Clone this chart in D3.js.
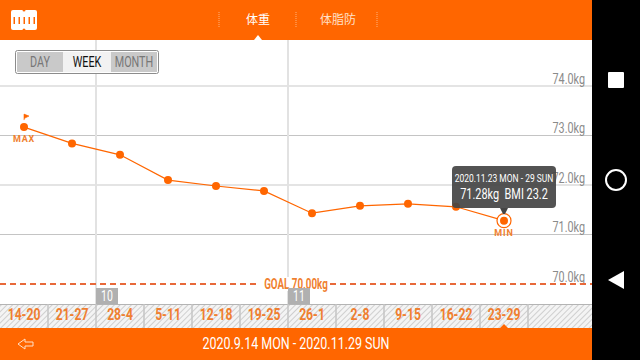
<!DOCTYPE html>
<html>
<head>
<meta charset="utf-8">
<script src="https://cdn.jsdelivr.net/npm/d3@7/dist/d3.min.js"></script>
<style>
  html, body { margin: 0; padding: 0; background: #fff; overflow: hidden; }
  text { font-family: "Roboto", sans-serif; }
  .cjk { font-family: "Noto Sans CJK JP", sans-serif; }
</style>
</head>
<body>
<div id="chart"></div>
<script>
// weekly data
var weeks = ["14-20", "21-27", "28-4", "5-11", "12-18", "19-25", "26-1", "2-8", "9-15", "16-22", "23-29"];
var weights = [73.17, 72.84, 72.61, 72.10, 71.98, 71.88, 71.43, 71.58, 71.62, 71.56, 71.28];
var yTicks = [70, 71, 72, 73, 74];
var thickTicks = [72, 74];
var monthTags = [{week: "28-4", label: "10"}, {week: "26-1", label: "11"}];
var tabs = ["体重", "体脂防"];
var ranges = ["DAY", "WEEK", "MONTH"];
var goal = 70;
var dateRange = "2020.9.14 MON - 2020.11.29 SUN";
var tipDate = "2020.11.23 MON - 29 SUN";
var tipValue = "71.28kg  BMI 23.2";

var orange = "#ff6600", labelOrange = "#f07f30";

// the app uses a condensed DIN style face, squeeze Roboto to get near it
function squeeze(sel, ratio) {
  sel.each(function() {
    this.setAttribute("textLength", this.getComputedTextLength() * ratio);
    this.setAttribute("lengthAdjust", "spacingAndGlyphs");
  });
}

var svg = d3.select("#chart").append("svg")
    .attr("width", 640)
    .attr("height", 360)
    .style("display", "block");

// hatch for the week strip
var hatch = svg.append("defs").append("pattern")
    .attr("id", "hatch")
    .attr("width", 4).attr("height", 4)
    .attr("patternUnits", "userSpaceOnUse")
    .attr("patternTransform", "rotate(45)");
hatch.append("rect").attr("width", 4).attr("height", 4).attr("fill", "#f4f4f4");
hatch.append("line").attr("x1", 0).attr("x2", 0).attr("y1", 0).attr("y2", 4)
    .attr("stroke", "#cfcfcf").attr("stroke-width", 2);

var x = d3.scaleBand().domain(weeks).range([0, 528]);
var y = d3.scaleLinear().domain([70, 74]).range([284, 86]);
var px = function(w) { return x(w) + x.bandwidth() / 2; };

svg.append("rect").attr("width", 592).attr("height", 360).attr("fill", "#fff");

// horizontal grid
svg.selectAll(".hgrid").data(yTicks.filter(function(d) { return d != goal; }))
  .enter().append("line")
    .attr("x1", 0).attr("x2", 592)
    .attr("y1", function(d) { return y(d); })
    .attr("y2", function(d) { return y(d); })
    .attr("stroke", function(d) { return thickTicks.indexOf(d) >= 0 ? "#e4e4e4" : "#c4c4c4"; })
    .attr("stroke-width", function(d) { return thickTicks.indexOf(d) >= 0 ? 2 : 1; });

// month boundaries
svg.selectAll(".vgrid").data(monthTags)
  .enter().append("line")
    .attr("x1", function(d) { return x(d.week); })
    .attr("x2", function(d) { return x(d.week); })
    .attr("y1", 40).attr("y2", 304)
    .attr("stroke", "#e2e2e2").attr("stroke-width", 2);

// y axis, labels sit on top of their lines
var yAxis = svg.append("g")
    .attr("transform", "translate(585,0)")
    .call(d3.axisLeft(y).tickValues(yTicks).tickSize(0).tickPadding(0)
      .tickFormat(function(d) { return d3.format(".1f")(d) + "kg"; }));
yAxis.select(".domain").remove();
yAxis.selectAll("text")
    .attr("dy", "-0.2em")
    .style("font-size", "15px")
    .attr("fill", "#8a8a8a")
    .call(squeeze, 0.72);

// goal line
svg.append("line")
    .attr("x1", 0).attr("x2", 592)
    .attr("y1", y(goal)).attr("y2", y(goal))
    .attr("stroke", "#e8693a").attr("stroke-width", 2)
    .attr("stroke-dasharray", "6,4");
svg.append("rect")
    .attr("x", 260).attr("y", y(goal) - 7).attr("width", 70).attr("height", 14)
    .attr("fill", "#fff");
svg.append("text")
    .attr("x", 296).attr("y", y(goal) + 5)
    .attr("text-anchor", "middle")
    .attr("fill", labelOrange)
    .style("font-size", "14px")
    .style("font-weight", "700")
    .text("GOAL " + d3.format(".2f")(goal) + "kg")
    .call(squeeze, 0.7);

// week strip
svg.append("rect").attr("x", 0).attr("y", 304).attr("width", 592).attr("height", 24)
    .attr("fill", "url(#hatch)");
svg.append("line").attr("x1", 0).attr("x2", 592).attr("y1", 304.5).attr("y2", 304.5)
    .attr("stroke", "#b4b4b4");
svg.selectAll(".sep").data(weeks)
  .enter().append("line")
    .attr("x1", function(d) { return x(d) + x.bandwidth(); })
    .attr("x2", function(d) { return x(d) + x.bandwidth(); })
    .attr("y1", 304).attr("y2", 328)
    .attr("stroke", "#c4c4c4").attr("stroke-width", 1.5);

var xAxis = svg.append("g")
    .attr("transform", "translate(0,304)")
    .call(d3.axisBottom(x).tickSize(0).tickPadding(5));
xAxis.select(".domain").remove();
xAxis.selectAll("text")
    .style("font-size", "16px")
    .style("font-weight", "700")
    .attr("fill", labelOrange)
    .call(squeeze, 0.76);

// month tags
var tags = svg.selectAll(".tag").data(monthTags).enter().append("g");
tags.append("rect")
    .attr("x", function(d) { return x(d.week); })
    .attr("y", 288).attr("width", 22).attr("height", 16)
    .attr("fill", "#b0b0b0");
tags.append("text")
    .attr("x", function(d) { return x(d.week) + 11; })
    .attr("y", 301)
    .attr("text-anchor", "middle")
    .attr("fill", "#fff")
    .style("font-size", "14px")
    .text(function(d) { return d.label; })
    .call(squeeze, 0.75);

// the line and its points
var line = d3.line()
    .x(function(d, i) { return px(weeks[i]); })
    .y(function(d) { return y(d); });
svg.append("path")
    .attr("d", line(weights))
    .attr("fill", "none")
    .attr("stroke", orange)
    .attr("stroke-width", 1.2);
svg.selectAll(".dot").data(weights)
  .enter().append("circle")
    .attr("cx", function(d, i) { return px(weeks[i]); })
    .attr("cy", function(d) { return y(d); })
    .attr("r", 4)
    .attr("fill", orange);

// max / min markers
var iMax = weights.indexOf(d3.max(weights));
var iMin = weights.indexOf(d3.min(weights));
var maxX = px(weeks[iMax]), maxY = y(weights[iMax]);
var minX = px(weeks[iMin]), minY = y(weights[iMin]);
svg.append("text")
    .attr("x", maxX).attr("y", maxY + 15)
    .attr("text-anchor", "middle")
    .attr("fill", labelOrange)
    .style("font-size", "9px").style("font-weight", "700").style("letter-spacing", "0.8px")
    .text("MAX");
svg.append("path")
    .attr("d", d3.line()([[maxX, maxY - 7], [maxX, maxY - 13], [maxX + 5, maxY - 11], [maxX + 1, maxY - 9]]))
    .attr("fill", orange).attr("stroke", orange).attr("stroke-width", 0.6);
svg.append("circle")
    .attr("cx", minX).attr("cy", minY).attr("r", 7)
    .attr("fill", "#fff").attr("stroke", orange).attr("stroke-width", 1.2);
svg.append("circle")
    .attr("cx", minX).attr("cy", minY).attr("r", 4).attr("fill", orange);
svg.append("text")
    .attr("x", minX).attr("y", minY + 15)
    .attr("text-anchor", "middle")
    .attr("fill", labelOrange)
    .style("font-size", "9px").style("font-weight", "700").style("letter-spacing", "0.8px")
    .text("MIN");

// tooltip over the last week
var tip = svg.append("g").attr("transform", "translate(" + minX + ",0)");
tip.append("rect")
    .attr("x", -52).attr("y", 166).attr("width", 104).attr("height", 42).attr("rx", 4)
    .attr("fill", "#444").attr("fill-opacity", 0.92);
tip.append("path")
    .attr("d", "M-4,208L4,208L1,214L-1,214Z")
    .attr("fill", "#444");
tip.append("text")
    .attr("y", 182).attr("text-anchor", "middle").attr("fill", "#fff")
    .style("font-size", "11px")
    .text(tipDate)
    .call(squeeze, 0.77);
tip.append("text")
    .attr("y", 199).attr("text-anchor", "middle").attr("fill", "#fff")
    .style("white-space", "pre")
    .style("font-size", "14px")
    .text(tipValue)
    .call(squeeze, 0.78);

// header bar
svg.append("rect").attr("width", 592).attr("height", 40).attr("fill", orange);
svg.append("rect").attr("x", 11).attr("y", 10).attr("width", 26).attr("height", 20).attr("rx", 2).attr("fill", "#fff");
svg.selectAll(".notch").data([10, 30])
  .enter().append("circle")
    .attr("cx", 24).attr("cy", function(d) { return d; }).attr("r", 1.5)
    .attr("fill", orange);
svg.selectAll(".bar").data(d3.range(5))
  .enter().append("rect")
    .attr("x", function(d) { return 13.5 + d * 5; })
    .attr("y", 17).attr("width", 1.5).attr("height", 7)
    .attr("fill", orange);
svg.selectAll(".tabsep").data([219, 296, 377])
  .enter().append("line")
    .attr("x1", function(d) { return d; }).attr("x2", function(d) { return d; })
    .attr("y1", 12).attr("y2", 28)
    .attr("stroke", "#ffb27a").attr("stroke-dasharray", "1,1");
svg.selectAll(".tab").data(tabs)
  .enter().append("text")
    .attr("class", "cjk")
    .attr("x", function(d, i) { return i == 0 ? 258 : 338; })
    .attr("y", 24)
    .attr("text-anchor", "middle")
    .attr("fill", function(d, i) { return i == 0 ? "#fff" : "#ffe0c8"; })
    .style("font-size", "12px")
    .text(function(d) { return d; });
svg.append("path").attr("d", "M254,40L258,35L262,40Z").attr("fill", "#fff");

// DAY / WEEK / MONTH switch
var rangeX = d3.scaleOrdinal().domain(ranges).range([17, 63, 111]);
var rangeW = d3.scaleOrdinal().domain(ranges).range([46, 48, 46]);
svg.append("rect")
    .attr("x", 15.5).attr("y", 50.5).attr("width", 143).attr("height", 23).attr("rx", 2)
    .attr("fill", "#fff").attr("stroke", "#8c8c8c");
svg.selectAll(".range").data(ranges)
  .enter().append("rect")
    .attr("x", function(d) { return rangeX(d); })
    .attr("y", 52).attr("width", function(d) { return rangeW(d); }).attr("height", 20)
    .attr("fill", function(d) { return d == "WEEK" ? "#f2f2f2" : "#c9c9c9"; });
svg.selectAll(".rangeText").data(ranges)
  .enter().append("text")
    .attr("x", function(d) { return rangeX(d) + rangeW(d) / 2; })
    .attr("y", 67)
    .attr("text-anchor", "middle")
    .attr("fill", function(d) { return d == "WEEK" ? "#111" : "#777"; })
    .style("font-size", "15px")
    .text(function(d) { return d; })
    .call(squeeze, 0.72);

// footer bar
svg.append("rect").attr("y", 328).attr("width", 592).attr("height", 32).attr("fill", orange);
svg.append("path").attr("d", "M" + (minX - 4) + ",328L" + minX + ",324L" + (minX + 4) + ",328Z").attr("fill", orange);
svg.append("path")
    .attr("d", "M18,344L25,339L25,342L33,342L33,346L25,346L25,349Z")
    .attr("fill", "none").attr("stroke", "#ffe0c8").attr("stroke-width", 1);
svg.append("text")
    .attr("x", 296).attr("y", 349)
    .attr("text-anchor", "middle")
    .attr("fill", "#fff")
    .style("font-size", "16px")
    .text(dateRange)
    .call(squeeze, 0.78);

// phone navigation bar
svg.append("rect").attr("x", 592).attr("width", 48).attr("height", 360).attr("fill", "#000");
svg.append("rect").attr("x", 608).attr("y", 72).attr("width", 16).attr("height", 16).attr("rx", 1).attr("fill", "#fff");
svg.append("circle").attr("cx", 616).attr("cy", 180).attr("r", 10)
    .attr("fill", "none").attr("stroke", "#fff").attr("stroke-width", 2);
svg.append("path").attr("d", "M608,280L624,271L624,289Z").attr("fill", "#fff");
</script>
</body>
</html>
